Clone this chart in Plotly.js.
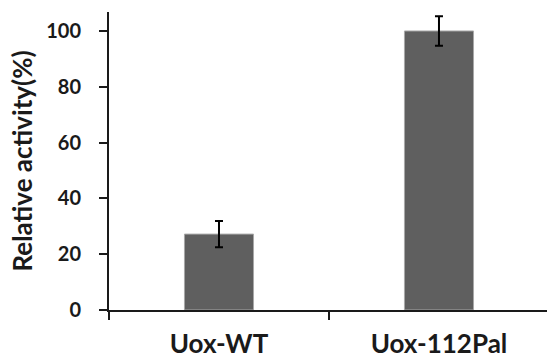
<!DOCTYPE html>
<html>
<head>
<meta charset="utf-8">
<script src="https://cdn.plot.ly/plotly-3.0.1.min.js"></script>
<style>html,body{margin:0;padding:0;background:#fff;}#chart{width:547px;height:358px;}</style>
</head>
<body>
<div id="chart"></div>
<script>
const categories = ["Uox-WT", "Uox-112Pal"];
const activity = [27.2, 100];
const errors = [4.7, 5.3];
const yTicks = [0, 20, 40, 60, 80, 100];

const trace = {
  type: "bar",
  x: categories,
  y: activity,
  marker: { color: "#5f5f5f", line: { color: "#a8a8a8", width: 1 } },
  error_y: { type: "data", array: errors, visible: true, color: "#000", thickness: 2, width: 4 },
  hoverinfo: "none"
};

const layout = {
  width: 547, height: 358,
  margin: { l: 109, r: 0, t: 12, b: 48 },
  paper_bgcolor: "#fff", plot_bgcolor: "#fff",
  bargap: 0.686,
  showlegend: false,
  font: { family: "Lato, 'Open Sans', sans-serif", color: "#1a1a1a" },
  xaxis: {
    type: "category",
    range: [-0.5, 1.491],
    showline: true, linecolor: "#1a1a1a", linewidth: 2,
    ticks: "outside", tickson: "boundaries", ticklen: 8, tickwidth: 2, tickcolor: "#1a1a1a",
    tickfont: { size: 26, family: "Lato", weight: "bold" },
    ticklabelstandoff: 10,
    showgrid: false, zeroline: false, fixedrange: true
  },
  yaxis: {
    range: [0, 106.8],
    tickvals: yTicks,
    ticktext: yTicks.map(String),
    showline: true, linecolor: "#1a1a1a", linewidth: 2,
    ticks: "outside", ticklen: 8, tickwidth: 2, tickcolor: "#1a1a1a",
    tickfont: { size: 20, family: "Lato", weight: "bold" },
    ticklabelstandoff: 14,
    showgrid: false, zeroline: false, fixedrange: true,
    title: { text: "Relative activity(%)", font: { size: 26, family: "Lato", weight: "bold" }, standoff: 6 }
  }
};

Plotly.newPlot("chart", [trace], layout, { displayModeBar: false, staticPlot: true });
</script>
</body>
</html>
